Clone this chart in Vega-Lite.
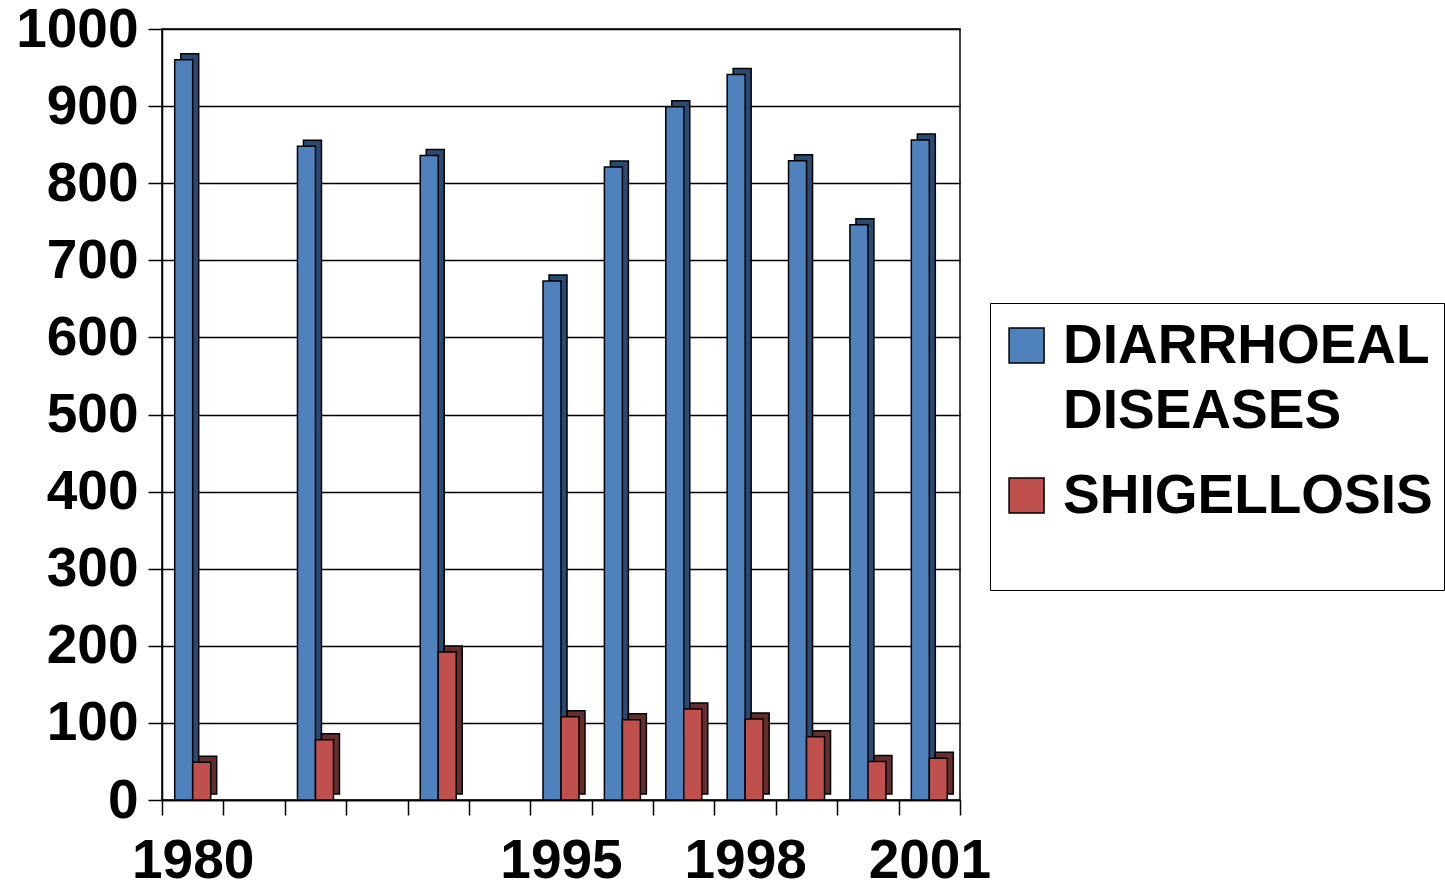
{
  "$schema": "https://vega.github.io/schema/vega-lite/v6.json",
  "width": 798,
  "height": 771,
  "autosize": "none",
  "padding": {"left": 162, "top": 29, "right": 485, "bottom": 88},
  "background": "white",
  "data": {
    "values": [
      {"year": "1980", "series": "DIARRHOEAL DISEASES", "cases": 960},
      {"year": "1980", "series": "SHIGELLOSIS", "cases": 49},
      {"year": "1985", "series": "DIARRHOEAL DISEASES", "cases": 848},
      {"year": "1985", "series": "SHIGELLOSIS", "cases": 78},
      {"year": "1990", "series": "DIARRHOEAL DISEASES", "cases": 836},
      {"year": "1990", "series": "SHIGELLOSIS", "cases": 192},
      {"year": "1995", "series": "DIARRHOEAL DISEASES", "cases": 673},
      {"year": "1995", "series": "SHIGELLOSIS", "cases": 108},
      {"year": "1996", "series": "DIARRHOEAL DISEASES", "cases": 821},
      {"year": "1996", "series": "SHIGELLOSIS", "cases": 104},
      {"year": "1997", "series": "DIARRHOEAL DISEASES", "cases": 899},
      {"year": "1997", "series": "SHIGELLOSIS", "cases": 118},
      {"year": "1998", "series": "DIARRHOEAL DISEASES", "cases": 941},
      {"year": "1998", "series": "SHIGELLOSIS", "cases": 105},
      {"year": "1999", "series": "DIARRHOEAL DISEASES", "cases": 829},
      {"year": "1999", "series": "SHIGELLOSIS", "cases": 82},
      {"year": "2000", "series": "DIARRHOEAL DISEASES", "cases": 746},
      {"year": "2000", "series": "SHIGELLOSIS", "cases": 50},
      {"year": "2001", "series": "DIARRHOEAL DISEASES", "cases": 856},
      {"year": "2001", "series": "SHIGELLOSIS", "cases": 54}
    ]
  },
  "encoding": {
    "x": {
      "field": "year",
      "type": "nominal",
      "scale": {
        "domain": ["1980", "gap1", "1985", "gap2", "1990", "gap3", "1995", "1996", "1997", "1998", "1999", "2000", "2001"],
        "paddingInner": 0,
        "paddingOuter": 0
      },
      "axis": {
        "title": null,
        "labelAngle": 0,
        "tickBand": "extent",
        "tickSize": 15,
        "tickColor": "black",
        "tickWidth": 1.5,
        "domainColor": "black",
        "domainWidth": 1.5,
        "grid": false,
        "labelPadding": 19,
        "labelExpr": "indexof(['1980','1995','1998','2001'], datum.value) >= 0 ? datum.value : ''"
      }
    },
    "y": {
      "field": "cases",
      "type": "quantitative",
      "scale": {"domain": [0, 1000], "nice": false},
      "axis": {
        "title": null,
        "format": "d",
        "values": [0, 100, 200, 300, 400, 500, 600, 700, 800, 900, 1000],
        "tickSize": 14,
        "tickColor": "black",
        "tickWidth": 1.5,
        "domainColor": "black",
        "domainWidth": 1.5,
        "gridColor": "black",
        "gridWidth": 1.5,
        "labelPadding": 10
      }
    }
  },
  "layer": [
    {
      "transform": [{"filter": "datum.series == 'DIARRHOEAL DISEASES'"}],
      "mark": {"type": "bar", "width": 18, "xOffset": -3, "yOffset": -6, "color": "#2B4A72", "stroke": "black", "strokeWidth": 1.5}
    },
    {
      "transform": [{"filter": "datum.series == 'DIARRHOEAL DISEASES'"}],
      "mark": {"type": "bar", "width": 18, "xOffset": -9, "stroke": "black", "strokeWidth": 1.5},
      "encoding": {
        "color": {
          "field": "series",
          "type": "nominal",
          "scale": {"domain": ["DIARRHOEAL DISEASES", "SHIGELLOSIS"], "range": ["#4F81BD", "#C0504D"]},
          "legend": {
            "title": " ",
            "titleOrient": "bottom",
            "titleFontSize": 30,
            "titlePadding": 25,
            "orient": "none",
            "legendX": 828,
            "legendY": 274,
            "padding": 11,
            "strokeColor": "black",
            "fillColor": "white",
            "symbolType": "M-1.11,-0.77H0.89V1.23H-1.11Z",
            "symbolSize": 1225,
            "symbolStrokeColor": "black",
            "symbolStrokeWidth": 1.5,
            "symbolOpacity": 1,
            "labelFontSize": 55,
            "labelFont": "Liberation Sans",
            "labelFontWeight": "bold",
            "labelColor": "black",
            "labelLimit": 0,
            "labelOffset": 7,
            "labelBaseline": "middle",
            "rowPadding": 25,
            "labelExpr": "datum.label == 'DIARRHOEAL DISEASES' ? ['DIARRHOEAL', 'DISEASES'] : datum.label",
            "encode": {"labels": {"update": {"lineHeight": {"value": 65}, "dy": {"value": 4}}}}
          }
        }
      }
    },
    {
      "transform": [{"filter": "datum.series == 'SHIGELLOSIS'"}],
      "mark": {"type": "bar", "width": 18, "xOffset": 15, "yOffset": -6, "color": "#632E2D", "stroke": "black", "strokeWidth": 1.5}
    },
    {
      "transform": [{"filter": "datum.series == 'SHIGELLOSIS'"}],
      "mark": {"type": "bar", "width": 18, "xOffset": 9, "stroke": "black", "strokeWidth": 1.5},
      "encoding": {"color": {"field": "series", "type": "nominal"}}
    }
  ],
  "config": {
    "view": {"stroke": "black", "strokeWidth": 1.5},
    "font": "Liberation Sans",
    "axis": {
      "labelFont": "Liberation Sans",
      "labelFontSize": 55,
      "labelFontWeight": "bold",
      "labelColor": "black"
    }
  }
}
